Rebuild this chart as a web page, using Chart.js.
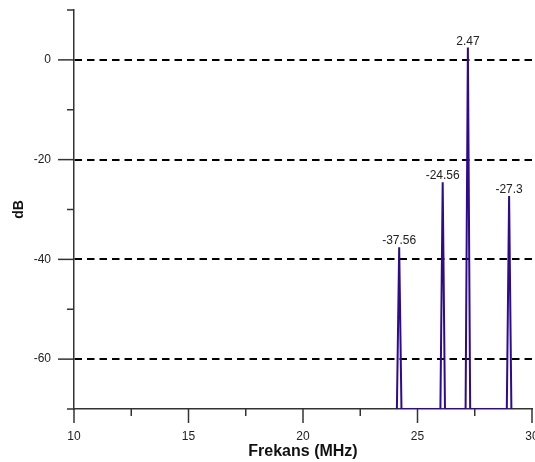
<!DOCTYPE html>
<html>
<head>
<meta charset="utf-8">
<script src="https://cdn.jsdelivr.net/npm/chart.js@4.4.1/dist/chart.umd.min.js"></script>
<style>
  html, body { margin: 0; padding: 0; background: #fff; }
  #wrap { width: 535px; height: 462px; }
</style>
</head>
<body>
<div id="wrap"><canvas id="spectrum"></canvas></div>
<script>
// spectrum samples (MHz, dB)
const freqMHz = [24.1, 24.2, 24.3, 26.0, 26.1, 26.2, 27.1, 27.2, 27.3, 28.9, 29.0, 29.1];
const levelDb = [-70, -37.56, -70, -70, -24.56, -70, -70, 2.47, -70, -70, -27.3, -70];
const peakIndex = [1, 4, 7, 10];

// axis ticks
const xLabels = [10, 15, 20, 25, 30];
const yLabels = [-60, -40, -20, 0];

const axisColor = '#333';
const lineColor = '#2d0b8c';
const font = 'Liberation Sans, Arial, sans-serif';

// draws major/minor tick marks outside the plot (Chart.js only does one length)
const tickMarks = {
  id: 'tickMarks',
  afterDraw(chart) {
    const { ctx, chartArea, scales } = chart;
    ctx.save();
    ctx.strokeStyle = axisColor;
    ctx.lineWidth = 1.5;
    scales.x.ticks.forEach(t => {
      const x = scales.x.getPixelForValue(t.value);
      const len = xLabels.includes(t.value) ? 14 : 7;
      ctx.beginPath();
      ctx.moveTo(x, chartArea.bottom);
      ctx.lineTo(x, chartArea.bottom + len);
      ctx.stroke();
    });
    scales.y.ticks.forEach(t => {
      const y = scales.y.getPixelForValue(t.value);
      const len = yLabels.includes(t.value) ? 16 : 7;
      ctx.beginPath();
      ctx.moveTo(chartArea.left, y);
      ctx.lineTo(chartArea.left - len, y);
      ctx.stroke();
    });
    ctx.restore();
  }
};

// value labels above each peak
const peakLabels = {
  id: 'peakLabels',
  afterDatasetsDraw(chart) {
    const { ctx } = chart;
    const meta = chart.getDatasetMeta(0);
    ctx.save();
    ctx.fillStyle = '#222';
    ctx.font = '12px ' + font;
    ctx.textAlign = 'center';
    ctx.textBaseline = 'alphabetic';
    peakIndex.forEach(i => {
      const pt = meta.data[i];
      ctx.fillText(String(levelDb[i]), pt.x, pt.y - 3);
    });
    ctx.restore();
  }
};

const ctx = document.getElementById('spectrum').getContext('2d');
new Chart(ctx, {
  type: 'line',
  data: {
    datasets: [{
      data: freqMHz.map((f, i) => ({ x: f, y: levelDb[i] })),
      borderColor: lineColor,
      borderWidth: 2,
      pointRadius: 0,
      tension: 0,
      fill: false
    }]
  },
  options: {
    responsive: true,
    maintainAspectRatio: false,
    animation: false,
    layout: { padding: { top: 10, right: 3, bottom: 1, left: 0 } },
    plugins: {
      legend: { display: false },
      tooltip: { enabled: false }
    },
    scales: {
      x: {
        type: 'linear',
        min: 10,
        max: 30,
        afterFit(scale) {
          scale.height = 52;
          scale.paddingLeft = 0;
          scale.paddingRight = 0;
        },
        ticks: {
          stepSize: 2.5,
          autoSkip: false,
          maxRotation: 0,
          padding: 20,
          color: '#222',
          font: { family: font, size: 12 },
          callback: v => xLabels.includes(v) ? String(v) : ''
        },
        grid: { display: false, drawTicks: false },
        border: { display: true, color: axisColor, width: 1.5 },
        title: {
          display: true,
          text: 'Frekans (MHz)',
          color: '#111',
          font: { family: font, size: 16, weight: 'bold' },
          padding: { top: 0, bottom: 0 }
        }
      },
      y: {
        min: -70,
        max: 10,
        afterFit(scale) {
          scale.width = 74;
          scale.paddingTop = 0;
          scale.paddingBottom = 0;
        },
        ticks: {
          stepSize: 10,
          autoSkip: false,
          padding: 23,
          color: '#222',
          font: { family: font, size: 12 },
          callback: v => yLabels.includes(v) ? String(v) : ''
        },
        grid: {
          drawTicks: false,
          color: c => yLabels.includes(c.tick.value) ? '#000' : 'rgba(0,0,0,0)',
          lineWidth: 2
        },
        border: { display: true, color: axisColor, width: 1.5, dash: [7.5, 5] },
        title: {
          display: true,
          text: 'dB',
          color: '#111',
          font: { family: font, size: 14, weight: 'bold' },
          padding: { top: 10.5, bottom: 0 }
        }
      }
    }
  },
  plugins: [tickMarks, peakLabels]
});
</script>
</body>
</html>
